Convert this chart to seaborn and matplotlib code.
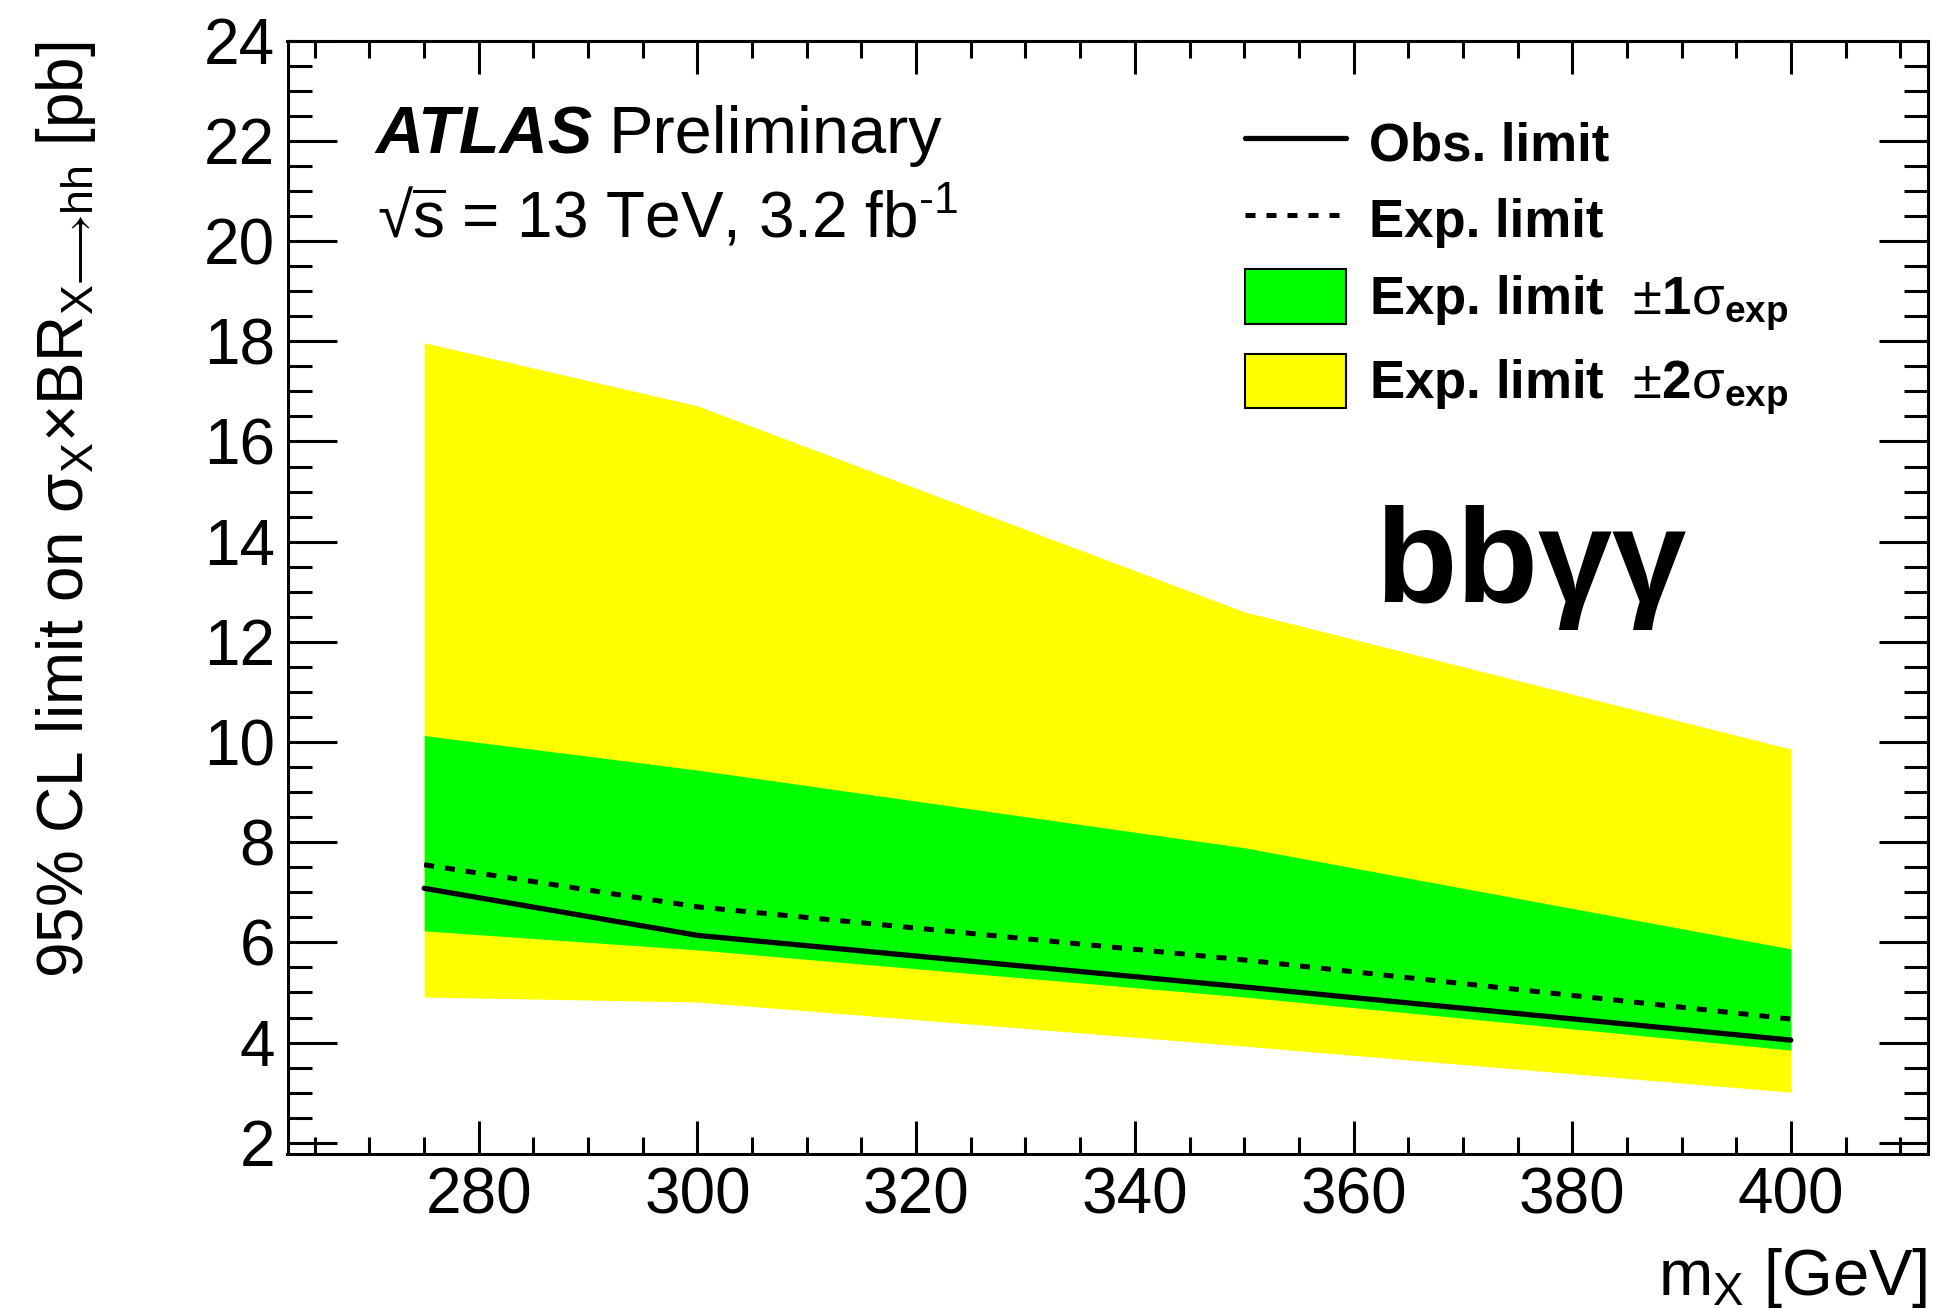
import matplotlib
matplotlib.use("Agg")
import matplotlib.pyplot as plt
from matplotlib.lines import Line2D
from matplotlib.patches import Patch
from matplotlib.ticker import MultipleLocator
import seaborn as sns

# Resonance mass points [GeV] and 95% CL limits [pb]
mass = [275, 300, 350, 400]
obs_limit = [7.08, 6.14, 5.11, 4.05]
exp_limit = [7.55, 6.71, 5.65, 4.47]
exp_p1 = [10.13, 9.44, 7.89, 5.87]
exp_m1 = [6.23, 5.85, 4.91, 3.85]
exp_p2 = [17.97, 16.71, 12.60, 9.86]
exp_m2 = [4.91, 4.81, 3.93, 3.01]

x_ticks = [280, 300, 320, 340, 360, 380, 400]
y_ticks = [2, 4, 6, 8, 10, 12, 14, 16, 18, 20, 22, 24]

sns.set_style("ticks")
plt.rcParams["font.family"] = ["Liberation Sans", "DejaVu Sans"]
plt.rcParams["mathtext.fontset"] = "custom"
plt.rcParams["mathtext.rm"] = "Liberation Sans"
plt.rcParams["mathtext.it"] = "Liberation Sans:italic"
plt.rcParams["mathtext.bf"] = "Liberation Sans:bold"
plt.rcParams["mathtext.fallback"] = "stixsans"
for key in ["text.color", "axes.labelcolor", "xtick.color", "ytick.color",
            "axes.edgecolor"]:
    plt.rcParams[key] = "black"

W, H = 1935, 1309
fig = plt.figure(figsize=(W / 100, H / 100), dpi=100)
ax_l, ax_r, ax_t, ax_b = 287.5, 1927.5, 40.7, 1153.8
ax = fig.add_axes([ax_l / W, 1 - ax_b / H, (ax_r - ax_l) / W, (ax_b - ax_t) / H])

def fx(px):
    return px / W

def fy(py):
    return 1 - py / H

# Expected-limit bands
ax.fill_between(mass, exp_m2, exp_p2, color="#ffff00", lw=0, zorder=1)
ax.fill_between(mass, exp_m1, exp_p1, color="#00ff00", lw=0, zorder=2)

# Limit curves
sns.lineplot(x=mass, y=exp_limit, ax=ax, color="black", lw=3.6,
             linestyle=(0, (2.0, 2.2)), zorder=3)
sns.lineplot(x=mass, y=obs_limit, ax=ax, color="black", lw=3.8, zorder=4)

ax.set_xlim(262.5, 412.5)
ax.set_ylim(1.78, 24)
ax.set_xticks(x_ticks)
ax.set_yticks(y_ticks)
ax.xaxis.set_minor_locator(MultipleLocator(5))
ax.yaxis.set_minor_locator(MultipleLocator(0.5))

for s in ax.spines.values():
    s.set_linewidth(2.2)
    s.set_color("black")
ax.tick_params(which="both", direction="in", top=True, right=True,
               width=2.2, color="black", labelcolor="black", labelsize=46, pad=9)
ax.tick_params(axis="y", which="major", length=35)
ax.tick_params(axis="y", which="minor", length=17.6)
ax.tick_params(axis="x", which="major", length=23.8)
ax.tick_params(axis="x", which="minor", length=11.9)

ax.set_ylabel(r"95% CL limit on $\mathrm{σ_{X}}$×BR$_{\mathrm{X⟶hh}}$ [pb]",
              fontsize=46, ha="right", va="baseline", rotation_mode="anchor",
              color="black")
ax.yaxis.set_label_coords((83 - ax_l) / (ax_r - ax_l), (ax_b - 41) / (ax_b - ax_t))
ax.set_xlabel(r"m$_{\mathrm{X}}$ [GeV]", fontsize=47, ha="right", va="baseline",
              color="black")
ax.xaxis.set_label_coords((1927 - ax_l) / (ax_r - ax_l), (ax_b - 1295) / (ax_b - ax_t))

# Experiment label
fig.text(fx(375), fy(153), "ATLAS", fontsize=48, fontweight="bold",
         fontstyle="italic", va="baseline", ha="left")
fig.text(fx(608), fy(153), "Preliminary", fontsize=48, va="baseline", ha="left")
fig.text(fx(377), fy(237), r"√$\overline{\mathrm{s}}$ = 13 TeV, 3.2 fb$^{\mathrm{‐1}}$",
         fontsize=46, va="baseline", ha="left")

# Channel label
fig.text(fx(1375), fy(602), "bbγγ", fontsize=96, fontweight="bold",
         va="baseline", ha="left")

# Legend
fs_pt = 38
fs_px = fs_pt * 100 / 72
handles = [
    Line2D([], [], color="black", lw=3.8),
    Line2D([], [], color="black", lw=3.6, linestyle=(0, (2.0, 2.2))),
    Patch(facecolor="#00ff00", edgecolor="black", lw=1.5),
    Patch(facecolor="#ffff00", edgecolor="black", lw=1.5),
]
labels = [
    "Obs. limit",
    "Exp. limit",
    r"Exp. limit  $\pm\mathbf{1}\mathrm{σ}_{\mathbf{exp}}$",
    r"Exp. limit  $\pm\mathbf{2}\mathrm{σ}_{\mathbf{exp}}$",
]
leg = ax.legend(handles, labels, loc="upper left",
                bbox_to_anchor=(fx(1245), fy(115)), bbox_transform=fig.transFigure,
                frameon=False, borderpad=0, borderaxespad=0,
                prop={"size": fs_pt, "weight": "bold"},
                handlelength=101 / fs_px, handleheight=64 / fs_px,
                handletextpad=23 / fs_px, labelspacing=0.40)
for t in leg.get_texts():
    t.set_color("black")

fig.savefig("out.png", dpi=100)
